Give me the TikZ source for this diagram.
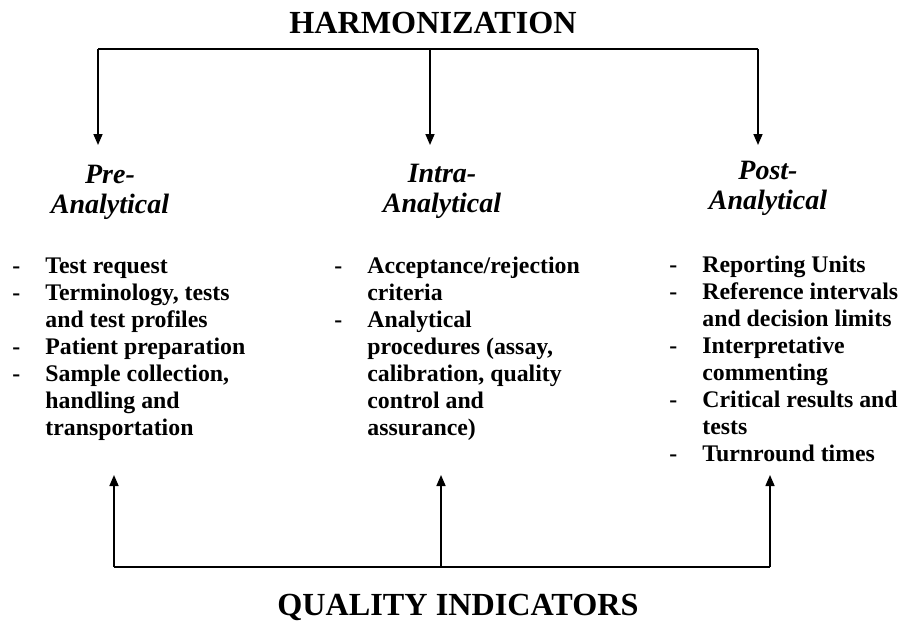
\documentclass[tikz,border=0pt]{standalone}
\usepackage{fontspec}
\setmainfont{Liberation Serif}
\usetikzlibrary{arrows.meta}
\newcommand{\dashitem}{\strut\makebox[16.5pt][l]{-}}
\newcommand{\contline}{\hspace*{16.5pt}}

\begin{document}
\begin{tikzpicture}[
    x=0.5pt, y=-0.5pt,
    % Styles
    title/.style={font=\fontsize{16.1}{18}\selectfont\bfseries, inner sep=0pt},
    phase/.style={font=\fontsize{14}{15}\selectfont\bfseries\itshape,
        align=center, inner sep=0pt, anchor=north},
    items/.style={font=\fontsize{11.9}{13.5}\selectfont\bfseries,
        align=left, inner sep=0pt, anchor=north west},
    bus/.style={line width=0.9pt},
    arr/.style={line width=0.8pt, -{Triangle[length=5.5pt, width=4.5pt]}},
]
\useasboundingbox (0,0) rectangle (904,621);

% ===== Top: harmonization =====
\node[title, anchor=base] (harm) at (433,33) {HARMONIZATION};

\coordinate (hz1) at (98,49);
\coordinate (hz2) at (430,49);
\coordinate (hz3) at (758,49);
\coordinate (in1) at (98,145);
\coordinate (in2) at (430,145);
\coordinate (in3) at (758,145);
\draw[bus] (hz1) -- (hz3);
\draw[arr] (hz1) -- (in1);
\draw[arr] (hz2) -- (in2);
\draw[arr] (hz3) -- (in3);

% ===== Phase headings =====
\node[phase] (pre) at (110,162) {\strut Pre-\\Analytical};
\node[phase] (intra) at (442,161) {\strut Intra-\\Analytical};
\node[phase] (post) at (768,158) {\strut Post-\\Analytical};

% ===== Lists =====
\node[items] (prelist) at (12,254) {
    \dashitem Test request\\
    \dashitem Terminology, tests\\
    \contline and test profiles\\
    \dashitem Patient preparation\\
    \dashitem Sample collection,\\
    \contline handling and\\
    \contline transportation};

\node[items] (intralist) at (334,254) {
    \dashitem Acceptance/rejection\\
    \contline criteria\\
    \dashitem Analytical\\
    \contline procedures (assay,\\
    \contline calibration, quality\\
    \contline control and\\
    \contline assurance)};

\node[items] (postlist) at (669,253) {
    \dashitem Reporting Units\\
    \dashitem Reference intervals\\
    \contline and decision limits\\
    \dashitem Interpretative\\
    \contline commenting\\
    \dashitem Critical results and\\
    \contline tests\\
    \dashitem Turnround times};

% ===== Bottom: quality indicators =====
\coordinate (qi1) at (114,567);
\coordinate (qi2) at (441,567);
\coordinate (qi3) at (770,567);
\coordinate (out1) at (114,475);
\coordinate (out2) at (441,475);
\coordinate (out3) at (770,475);
\draw[bus] (qi1) -- (qi3);
\draw[arr] (qi1) -- (out1);
\draw[arr] (qi2) -- (out2);
\draw[arr] (qi3) -- (out3);

\node[title, anchor=base] (qind) at (458,615) {QUALITY INDICATORS};

\end{tikzpicture}
\end{document}
